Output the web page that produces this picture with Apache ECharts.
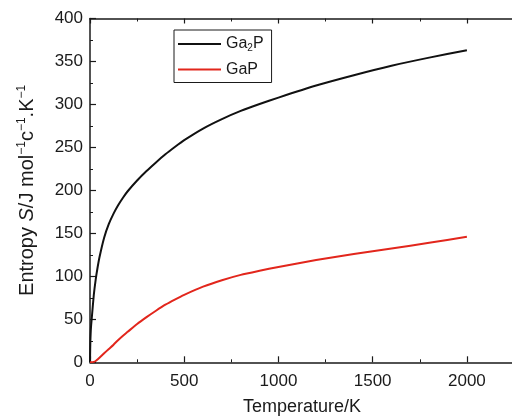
<!DOCTYPE html>
<html>
<head>
<meta charset="utf-8">
<script src="https://cdn.jsdelivr.net/npm/echarts@6/dist/echarts.min.js"></script>
<style>
  html, body { margin: 0; padding: 0; background: #fff; }
  #chart { width: 512px; height: 416px; }
</style>
</head>
<body>
<div id="chart"></div>
<script>
// Temperature grid (K) and standard entropy values (J mol^-1 K^-1)
const temperatures = [0, 1, 2, 5, 10, 20, 30, 40, 50, 75, 100, 125, 150, 175, 200, 250, 300, 350, 400, 450, 500, 600, 700, 800, 900, 1000, 1200, 1400, 1600, 1800, 2000];
const ga2pEntropy  = [0, 15, 25, 40, 53, 78, 96, 110, 122, 145, 161, 173, 183, 191.5, 199, 211.5, 222.5, 232.5, 242, 250.5, 258.5, 272, 283, 292.5, 300.5, 308, 322, 334, 345, 354.5, 363];
const gapEntropy   = [0, 0, 0, 0, 0, 0.5, 1.5, 3.3, 5.3, 10.5, 15.5, 20.5, 26, 31, 35.5, 44.5, 52.5, 60, 67, 73, 78.5, 88, 95.5, 101.7, 106.5, 111, 119, 126, 132.5, 139, 146];

const xTicks = { min: 0, max: 2250, interval: 500 };
const yTicks = { min: 0, max: 400, interval: 50 };

const pairs = (xs, ys) => xs.map((x, i) => [x, ys[i]]);

const fontFamily = '"Liberation Sans", Arial, Helvetica, sans-serif';
const textColor = '#1a1a1a';
const axisColor = '#1a1a1a';

const chart = echarts.init(document.getElementById('chart'), null, { renderer: 'canvas' });

const baseAxisLine = { show: true, lineStyle: { color: axisColor, width: 1.5 } };

chart.setOption({
  animation: false,
  backgroundColor: '#fff',
  grid: { left: 90, top: 18.5, width: 424, height: 343.8, containLabel: false, outerBoundsMode: 'none' },
  legend: {
    orient: 'vertical',
    left: 174,
    top: 30,
    itemWidth: 43,
    itemHeight: 2,
    itemGap: 8,
    padding: [6, 8, 5, 4],
    borderColor: '#1a1a1a',
    borderWidth: 1,
    backgroundColor: '#fff',
    icon: 'rect',
    textStyle: {
      fontFamily: fontFamily,
      fontSize: 16,
      color: textColor,
      rich: {
        sub: { fontSize: 10, verticalAlign: 'bottom', padding: [9, 0, 0, 0], fontFamily: fontFamily, color: textColor },
        n: { fontSize: 16, fontFamily: fontFamily, color: textColor }
      }
    },
    formatter: function (name) {
      return name === 'Ga2P' ? '{n|Ga}{sub|2}{n|P}' : '{n|' + name + '}';
    },
    data: ['Ga2P', 'GaP']
  },
  xAxis: [
    {
      type: 'value',
      min: xTicks.min,
      max: xTicks.max,
      interval: xTicks.interval,
      name: 'Temperature/K',
      nameLocation: 'middle',
      nameGap: 36,
      nameTextStyle: { fontFamily: fontFamily, fontSize: 18, color: textColor },
      axisLine: baseAxisLine,
      axisTick: { show: true, inside: true, length: 6, lineStyle: { color: axisColor, width: 1.2 } },
      minorTick: { show: true, splitNumber: 2, length: 3, lineStyle: { color: axisColor, width: 1 } },
      axisLabel: {
        fontFamily: fontFamily, fontSize: 17, color: textColor, margin: 11, showMaxLabel: false,
        formatter: function (v) { return String(v); }
      },
      splitLine: { show: false }
    },
    {
      type: 'value',
      position: 'top',
      min: xTicks.min,
      max: xTicks.max,
      interval: xTicks.interval,
      axisLine: baseAxisLine,
      axisTick: { show: true, inside: true, length: 5, lineStyle: { color: axisColor, width: 1.2 } },
      minorTick: { show: true, splitNumber: 2, length: 3, lineStyle: { color: axisColor, width: 1 } },
      axisLabel: { show: false },
      splitLine: { show: false }
    }
  ],
  yAxis: {
    type: 'value',
    min: yTicks.min,
    max: yTicks.max,
    interval: yTicks.interval,
    name: 'Entropy {i|S}/J mol{sup|\u22121}c{sup|\u22121}.K{sup|\u22121}',
    nameLocation: 'middle',
    nameGap: 52,
    nameRotate: 90,
    nameTextStyle: {
      fontFamily: fontFamily,
      fontSize: 20,
      color: textColor,
      rich: {
        i: { fontStyle: 'italic', fontSize: 20, fontFamily: fontFamily, color: textColor },
        sup: { fontSize: 12, verticalAlign: 'top', padding: [0, 0, 10, 0], fontFamily: fontFamily, color: textColor }
      }
    },
    axisLine: baseAxisLine,
    axisTick: { show: true, inside: true, length: 6, lineStyle: { color: axisColor, width: 1.2 } },
    minorTick: { show: true, splitNumber: 2, length: 3, lineStyle: { color: axisColor, width: 1 } },
    axisLabel: { fontFamily: fontFamily, fontSize: 17, color: textColor, margin: 7 },
    splitLine: { show: false }
  },
  series: [
    {
      name: 'Ga2P',
      type: 'line',
      data: pairs(temperatures, ga2pEntropy),
      showSymbol: false,
      smooth: 0.2,
      lineStyle: { color: '#111111', width: 2, join: 'round' },
      itemStyle: { color: '#111111' },
      z: 3
    },
    {
      name: 'GaP',
      type: 'line',
      data: pairs(temperatures, gapEntropy),
      showSymbol: false,
      smooth: 0.2,
      lineStyle: { color: '#e2261c', width: 2, join: 'round' },
      itemStyle: { color: '#e2261c' },
      z: 3
    }
  ]
});
</script>
</body>
</html>
